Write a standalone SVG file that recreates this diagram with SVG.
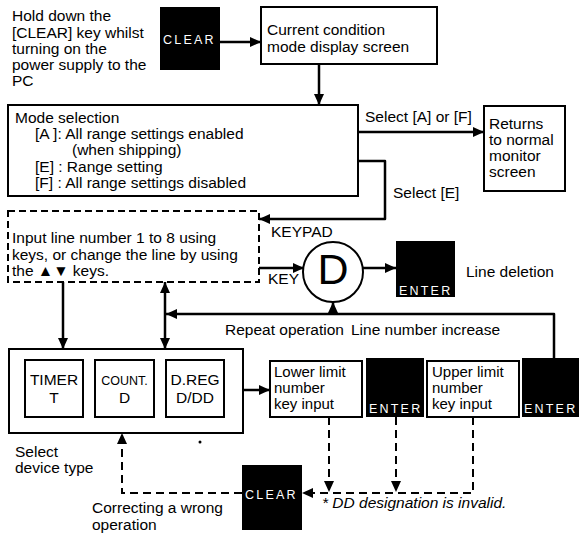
<svg xmlns="http://www.w3.org/2000/svg" width="579" height="533" viewBox="0 0 579 533">
<style>
text{font-family:"Liberation Sans",Arial,sans-serif;font-size:15.5px;fill:#000}
.box{fill:#fff;stroke:#000;stroke-width:2}
.key{fill:#000}
.kt{fill:#fff;font-size:12.5px;letter-spacing:2.2px}
.ln{fill:none;stroke:#000;stroke-width:2.5;stroke-linejoin:round}
.dl{fill:none;stroke:#000;stroke-width:2;stroke-dasharray:8 5}
.it{font-style:italic}
.c{text-anchor:middle}
.sm{font-size:15px}
</style>
<defs>
<marker id="ah" markerUnits="userSpaceOnUse" markerWidth="12" markerHeight="10" refX="11" refY="5" orient="auto-start-reverse"><path d="M0,0 L11,5 L0,10 z" fill="#000"/></marker>
</defs>
<rect width="579" height="533" fill="#fff"/>

<g id="note-hold">
<text x="12" y="21">Hold down the</text>
<text x="12" y="38">[CLEAR] key whilst</text>
<text x="12" y="54">turning on the</text>
<text x="12" y="70">power supply to the</text>
<text x="12" y="86">PC</text>
</g>

<g id="clear-top"><rect class="key" x="160" y="7" width="60" height="63"/><text class="kt" x="163" y="44">CLEAR</text></g>

<g id="current"><rect class="box" x="261" y="7" width="176" height="57"/>
<text x="267" y="35">Current condition</text><text x="267" y="52">mode display screen</text></g>

<g id="mode"><rect class="box" x="8" y="105" width="350" height="91"/>
<text x="15" y="123">Mode selection</text>
<text x="35" y="139">[A ]: All range settings enabled</text>
<text x="72" y="155">(when shipping)</text>
<text x="35" y="172">[E] : Range setting</text>
<text x="35" y="188">[F] : All range settings disabled</text></g>

<g id="returns"><rect class="box" x="484" y="106" width="81" height="85"/>
<text x="489" y="129">Returns</text><text x="489" y="145">to normal</text><text x="489" y="161">monitor</text><text x="489" y="177">screen</text></g>

<g id="input"><rect x="8" y="211" width="251" height="71" fill="#fff" stroke="#000" stroke-width="2" stroke-dasharray="7 4"/>
<text x="12" y="243">Input line number 1 to 8 using</text>
<text x="12" y="260">keys, or change the line by using</text>
<text x="12" y="276">the ▲▼ keys.</text></g>

<g id="d-key"><circle cx="333" cy="272" r="30" fill="#fff" stroke="#000" stroke-width="2"/>
<text class="c" x="333" y="284" style="font-size:43px">D</text></g>

<g id="enter-del"><rect class="key" x="396" y="241" width="59" height="56"/><text class="kt" x="399" y="295">ENTER</text></g>

<g id="device"><rect class="box" x="9" y="349" width="234" height="84"/>
<rect class="box" x="25" y="360" width="58" height="57"/>
<rect class="box" x="95" y="360" width="59" height="57"/>
<rect class="box" x="166" y="360" width="58" height="57"/>
<text class="c" x="54" y="385">TIMER</text><text class="c" x="54" y="403">T</text>
<text class="c" x="124.5" y="385" style="font-size:12.5px">COUNT.</text><text class="c" x="124.5" y="403">D</text>
<text class="c" x="195" y="385">D.REG</text><text class="c" x="195" y="403">D/DD</text></g>

<g id="lower"><rect class="box" x="270" y="361" width="92" height="56"/>
<text class="sm" x="274" y="377">Lower limit</text><text class="sm" x="274" y="393">number</text><text class="sm" x="274" y="409">key input</text></g>

<g id="enter-lower"><rect class="key" x="366" y="358" width="58" height="59"/><text class="kt" x="369" y="413">ENTER</text></g>

<g id="upper"><rect class="box" x="427" y="361" width="92" height="56"/>
<text class="sm" x="432" y="377">Upper limit</text><text class="sm" x="432" y="393">number</text><text class="sm" x="432" y="409">key input</text></g>

<g id="enter-upper"><rect class="key" x="522" y="358" width="57" height="59"/><text class="kt" x="524" y="413">ENTER</text></g>

<g id="clear-bottom"><rect class="key" x="242" y="465" width="60" height="65"/><text class="kt" x="245" y="499">CLEAR</text></g>

<g id="labels">
<text x="365" y="122">Select [A] or [F]</text>
<text x="393" y="198">Select [E]</text>
<text x="271" y="237">KEYPAD</text>
<text x="268" y="284">KEY</text>
<text x="466" y="277">Line deletion</text>
<text x="225" y="335">Repeat operation</text>
<text x="351" y="335">Line number increase</text>
<text x="15" y="457">Select</text><text x="15" y="473">device type</text>
<text x="92" y="513">Correcting a wrong</text><text x="92" y="530">operation</text>
<text class="it" x="322" y="508">* DD designation is invalid.</text>
<circle cx="200" cy="442" r="1.5" fill="#000"/>
</g>

<g id="connectors">
<path class="ln" d="M220,42 H261" marker-end="url(#ah)"/>
<path class="ln" d="M319,64 V105" marker-end="url(#ah)"/>
<path class="ln" d="M358,132 H484" marker-end="url(#ah)"/>
<path class="ln" d="M358,161 H385 V219 H259" marker-end="url(#ah)"/>
<path class="ln" d="M259,268 H304" marker-end="url(#ah)"/>
<path class="ln" d="M363,268 H396" marker-end="url(#ah)"/>
<path class="ln" d="M63,282 V349" marker-end="url(#ah)"/>
<path class="ln" d="M165,282 V349" marker-start="url(#ah)" marker-end="url(#ah)"/>
<path class="ln" d="M554,358 V314 H166" marker-end="url(#ah)"/>
<path class="ln" d="M333,314 V302" marker-end="url(#ah)"/>
<path class="ln" d="M243,390 H270" marker-end="url(#ah)"/>
<path class="dl" d="M329,417 V492" marker-end="url(#ah)"/>
<path class="dl" d="M396,417 V492" marker-end="url(#ah)"/>
<path class="dl" d="M473,417 V493 H302" marker-end="url(#ah)"/>
<path class="dl" d="M242,493 H122 V433" marker-end="url(#ah)"/>
</g>
</svg>
